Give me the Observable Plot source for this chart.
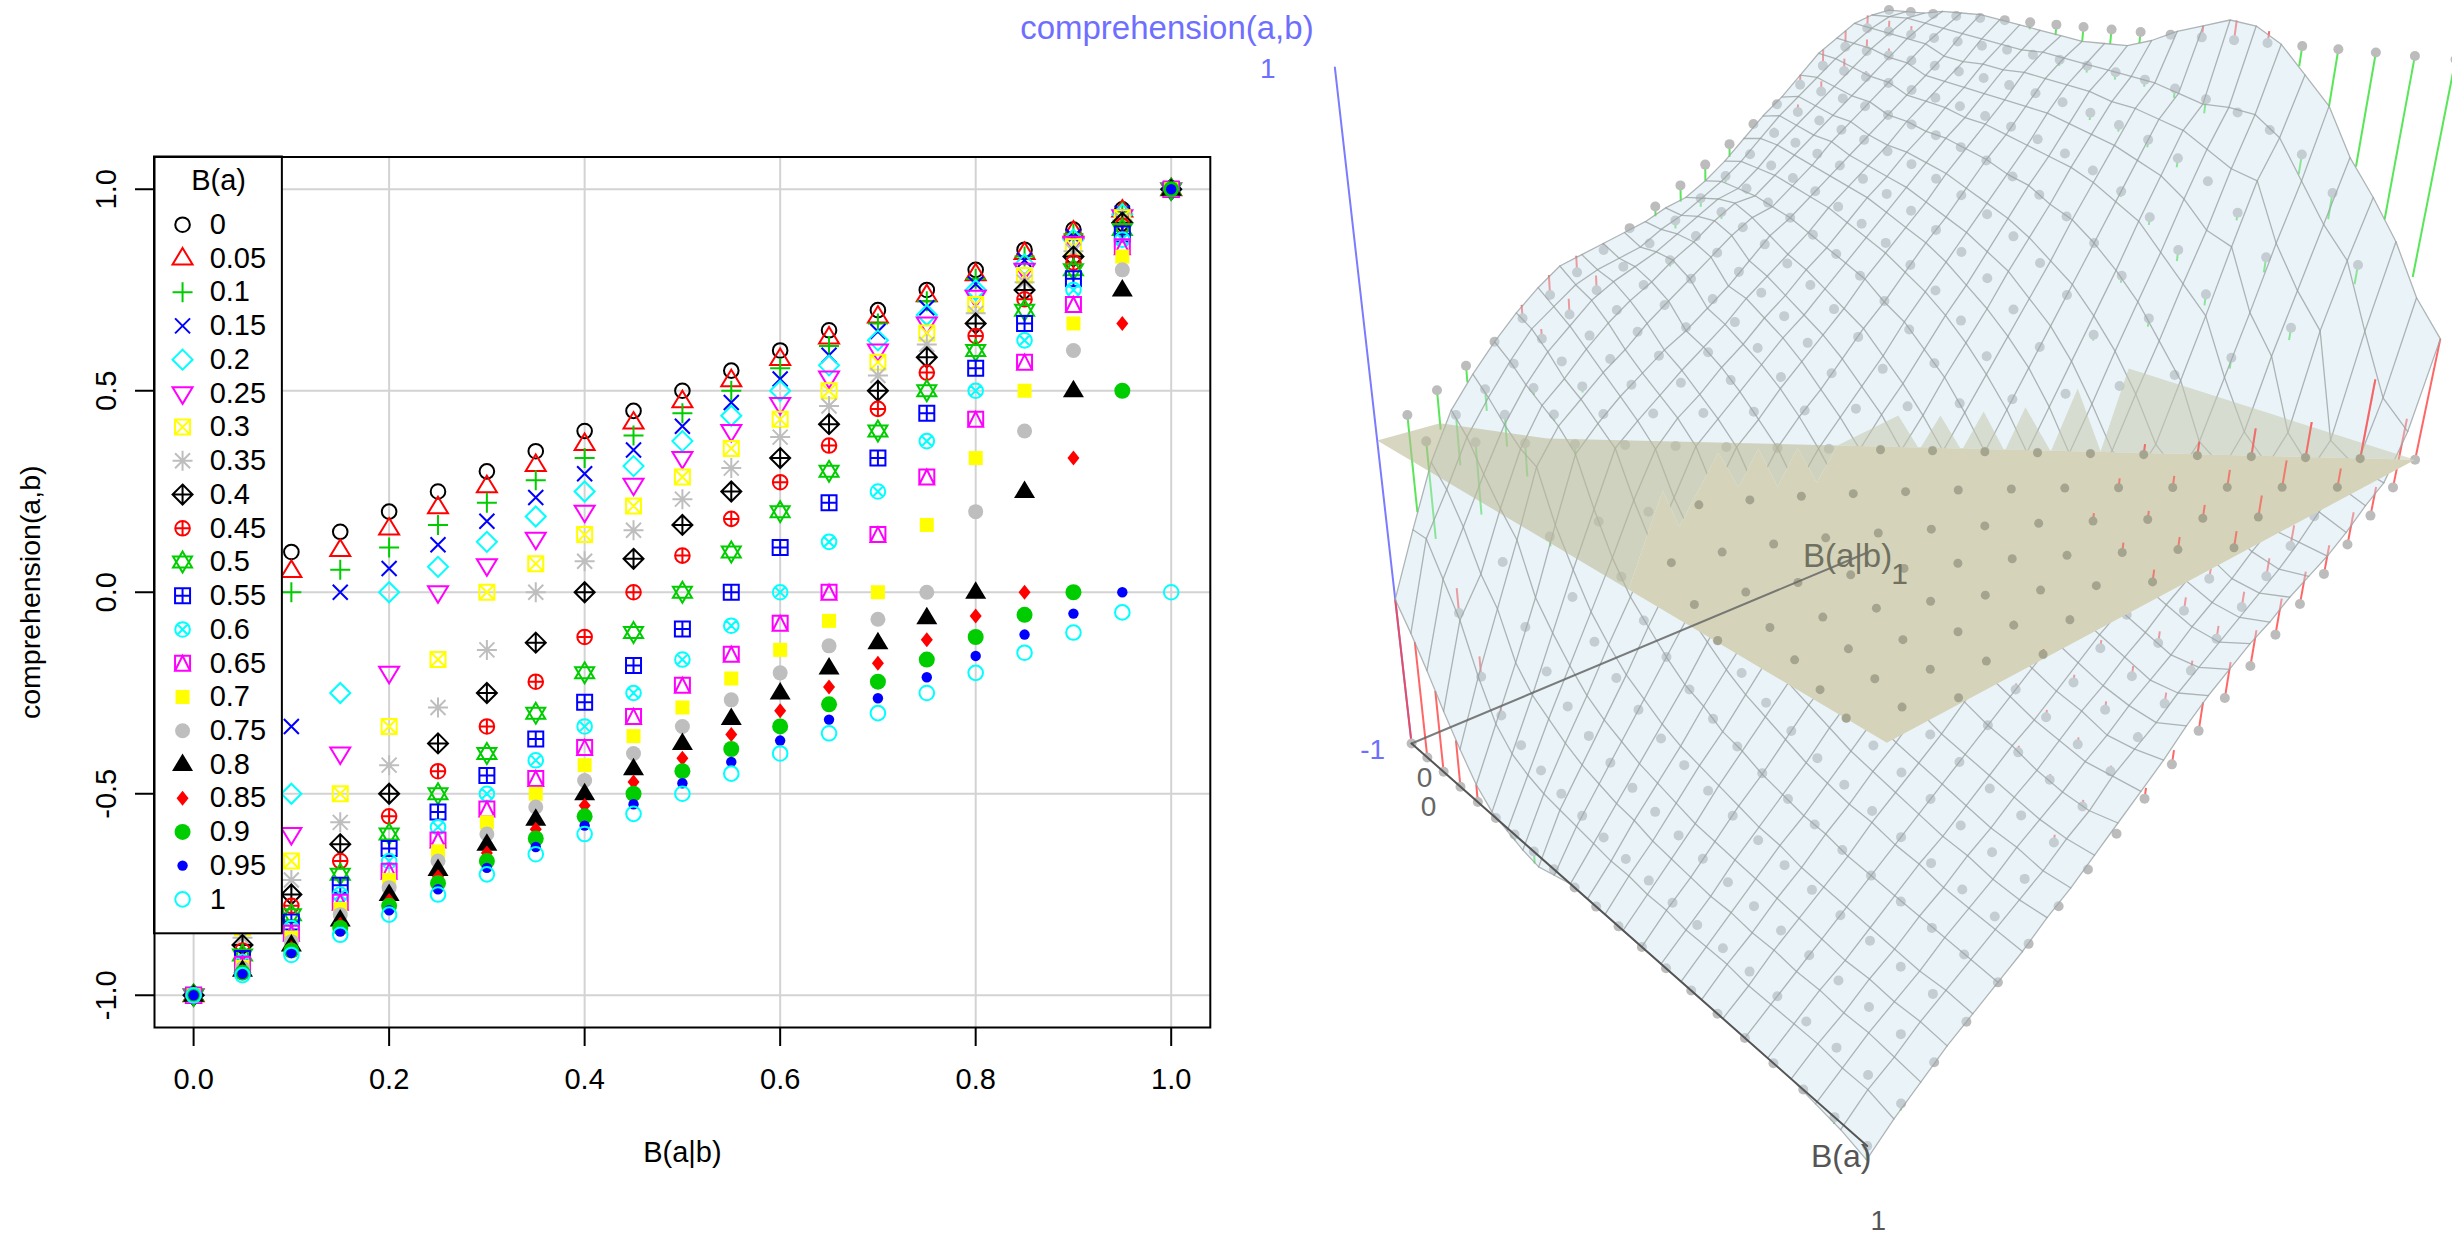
<!DOCTYPE html>
<html><head><meta charset="utf-8">
<script src="https://cdn.jsdelivr.net/npm/d3@7"></script>
<script src="https://cdn.jsdelivr.net/npm/@observablehq/plot@0.6"></script>
<style>
html,body{margin:0;padding:0;background:#fff;width:2452px;height:1239px;overflow:hidden}
#L,#R{position:absolute;left:0;top:0}
svg{display:block}
</style></head><body><div id="L"></div><div id="R"></div>
<script>
const levels=[0,.05,.1,.15,.2,.25,.3,.35,.4,.45,.5,.55,.6,.65,.7,.75,.8,.85,.9,.95,1];
const levelLabels=["0","0.05","0.1","0.15","0.2","0.25","0.3","0.35","0.4","0.45","0.5","0.55","0.6","0.65","0.7","0.75","0.8","0.85","0.9","0.95","1"];
const xTicks=[0,.2,.4,.6,.8,1];
const yTicks=[-1,-.5,0,.5,1];
// comprehension(a,b), one row per B(a), one column per B(a|b)
const observed=[
[-1,.05,.1,.15,.2,.25,.3,.35,.4,.45,.5,.55,.6,.65,.7,.75,.8,.85,.9,.95,1],
[-1,0,.053,.105,.158,.211,.263,.316,.368,.421,.474,.526,.579,.632,.684,.737,.789,.842,.895,.947,1],
[-1,-.5,0,.056,.111,.167,.222,.278,.333,.389,.444,.5,.556,.611,.667,.722,.778,.833,.889,.944,1],
[-1,-.667,-.333,0,.059,.118,.176,.235,.294,.353,.412,.471,.529,.588,.647,.706,.765,.824,.882,.941,1],
[-1,-.75,-.5,-.25,0,.063,.125,.188,.25,.313,.375,.438,.5,.563,.625,.688,.75,.813,.875,.938,1],
[-1,-.8,-.6,-.4,-.2,0,.067,.133,.2,.267,.333,.4,.467,.533,.6,.667,.733,.8,.867,.933,1],
[-1,-.833,-.667,-.5,-.333,-.167,0,.071,.143,.214,.286,.357,.429,.5,.571,.643,.714,.786,.857,.929,1],
[-1,-.857,-.714,-.571,-.429,-.286,-.143,0,.077,.154,.231,.308,.385,.462,.538,.615,.692,.769,.846,.923,1],
[-1,-.875,-.75,-.625,-.5,-.375,-.25,-.125,0,.083,.167,.25,.333,.417,.5,.583,.667,.75,.833,.917,1],
[-1,-.889,-.778,-.667,-.556,-.444,-.333,-.222,-.111,0,.091,.182,.273,.364,.455,.545,.636,.727,.818,.909,1],
[-1,-.9,-.8,-.7,-.6,-.5,-.4,-.3,-.2,-.1,0,.1,.2,.3,.4,.5,.6,.7,.8,.9,1],
[-1,-.909,-.818,-.727,-.636,-.545,-.455,-.364,-.273,-.182,-.091,0,.111,.222,.333,.444,.556,.667,.778,.889,1],
[-1,-.917,-.833,-.75,-.667,-.583,-.5,-.417,-.333,-.25,-.167,-.083,0,.125,.25,.375,.5,.625,.75,.875,1],
[-1,-.923,-.846,-.769,-.692,-.615,-.538,-.462,-.385,-.308,-.231,-.154,-.077,0,.143,.286,.429,.571,.714,.857,1],
[-1,-.929,-.857,-.786,-.714,-.643,-.571,-.5,-.429,-.357,-.286,-.214,-.143,-.071,0,.167,.333,.5,.667,.833,1],
[-1,-.933,-.867,-.8,-.733,-.667,-.6,-.533,-.467,-.4,-.333,-.267,-.2,-.133,-.067,0,.2,.4,.6,.8,1],
[-1,-.938,-.875,-.813,-.75,-.688,-.625,-.563,-.5,-.438,-.375,-.313,-.25,-.188,-.125,-.063,0,.25,.5,.75,1],
[-1,-.941,-.882,-.824,-.765,-.706,-.647,-.588,-.529,-.471,-.412,-.353,-.294,-.235,-.176,-.118,-.059,0,.333,.667,1],
[-1,-.944,-.889,-.833,-.778,-.722,-.667,-.611,-.556,-.5,-.444,-.389,-.333,-.278,-.222,-.167,-.111,-.056,0,.5,1],
[-1,-.947,-.895,-.842,-.789,-.737,-.684,-.632,-.579,-.526,-.474,-.421,-.368,-.316,-.263,-.211,-.158,-.105,-.053,0,1],
[-1,-.95,-.9,-.85,-.8,-.75,-.7,-.65,-.6,-.55,-.5,-.45,-.4,-.35,-.3,-.25,-.2,-.15,-.1,-.05,0]
];
// height of the fitted surface above the observed nodes, read from the 3D view
const fitted=[
[-.5,-.25,-.02,.1,.2,.29,.36,.4,.42,.44,.47,.5,.55,.61,.69,.76,.83,.9,.95,.99,1],
[-.6,-.3,-.1,.04,.15,.24,.31,.36,.38,.41,.45,.5,.56,.62,.7,.76,.82,.88,.93,.98,1],
[-.72,-.42,-.22,-.04,.09,.17,.23,.28,.33,.37,.43,.48,.54,.6,.67,.73,.79,.85,.91,.97,1.01],
[-.84,-.6,-.34,-.1,.04,.1,.17,.23,.28,.34,.4,.46,.52,.58,.64,.7,.77,.83,.89,.95,1.01],
[-.94,-.72,-.5,-.28,-.03,.05,.12,.18,.24,.3,.36,.43,.5,.56,.62,.69,.75,.81,.87,.94,1.01],
[-1,-.8,-.6,-.4,-.2,-.01,.06,.13,.19,.26,.33,.4,.46,.53,.6,.66,.73,.8,.86,.93,1],
[-1.02,-.84,-.67,-.5,-.33,-.16,-.01,.07,.14,.21,.28,.35,.42,.5,.57,.64,.71,.78,.85,.92,.98],
[-1.04,-.87,-.72,-.57,-.42,-.28,-.14,-.01,.08,.15,.23,.3,.38,.46,.54,.61,.69,.76,.84,.91,.97],
[-1.02,-.88,-.75,-.62,-.5,-.37,-.25,-.12,0,.08,.16,.25,.33,.41,.5,.58,.66,.74,.82,.9,.96],
[-1,-.89,-.78,-.66,-.55,-.44,-.33,-.22,-.11,0,.09,.18,.27,.36,.45,.54,.63,.72,.81,.89,.96],
[-1,-.9,-.8,-.7,-.6,-.5,-.4,-.3,-.2,-.1,0,.1,.2,.29,.39,.49,.59,.69,.78,.88,.97],
[-1,-.91,-.82,-.73,-.64,-.55,-.45,-.36,-.27,-.18,-.09,0,.11,.22,.33,.44,.55,.66,.76,.87,1],
[-1,-.92,-.83,-.75,-.67,-.58,-.5,-.42,-.33,-.25,-.17,-.08,0,.12,.24,.37,.49,.61,.73,.85,1.03],
[-1,-.92,-.85,-.77,-.69,-.61,-.54,-.46,-.38,-.3,-.23,-.15,-.08,0,.13,.27,.41,.55,.69,.82,1.05],
[-1,-.93,-.86,-.79,-.71,-.64,-.57,-.5,-.42,-.35,-.28,-.21,-.14,-.06,.01,.16,.31,.47,.66,.83,1.03],
[-1,-.93,-.87,-.8,-.73,-.66,-.6,-.53,-.46,-.39,-.32,-.26,-.19,-.11,-.04,.03,.19,.37,.58,.8,.95],
[-1,-.94,-.88,-.81,-.75,-.68,-.62,-.56,-.49,-.42,-.36,-.3,-.24,-.16,-.1,-.03,.04,.22,.46,.7,.86],
[-1,-.94,-.88,-.82,-.76,-.7,-.64,-.58,-.51,-.45,-.39,-.33,-.27,-.2,-.14,-.08,-.01,.08,.3,.6,.72],
[-1,-.95,-.89,-.83,-.77,-.72,-.66,-.6,-.54,-.48,-.42,-.36,-.3,-.24,-.18,-.12,-.05,.02,.1,.45,.6],
[-1.02,-.95,-.9,-.84,-.79,-.73,-.67,-.61,-.56,-.51,-.46,-.39,-.34,-.28,-.22,-.16,-.1,-.03,0,.22,.47],
[-1.04,-.97,-.9,-.84,-.79,-.74,-.69,-.65,-.59,-.52,-.46,-.37,-.3,-.25,-.2,-.16,-.12,-.06,-.02,.14,.33]
];
// the wire mesh of the surface has 25 cells a side; heights of its nodes, read from the 3D view
const meshStep=[0,.04,.08,.12,.16,.2,.24,.28,.32,.36,.4,.44,.48,.52,.56,.6,.64,.68,.72,.76,.8,.84,.88,.92,.96,1];
const mesh=[
[-.5,-.3,-.11,.03,.12,.2,.27,.33,.38,.4,.42,.44,.46,.49,.51,.55,.6,.66,.72,.77,.83,.89,.93,.97,.99,1],
[-.58,-.3,-.17,-.03,.07,.16,.24,.29,.34,.37,.39,.41,.45,.48,.52,.56,.61,.67,.73,.78,.83,.88,.92,.96,.99,1],
[-.67,-.4,-.26,-.12,.01,.11,.19,.25,.31,.35,.38,.41,.45,.49,.53,.55,.6,.66,.71,.76,.81,.86,.91,.95,.99,1],
[-.77,-.5,-.38,-.2,-.04,.07,.13,.2,.26,.31,.35,.4,.44,.49,.53,.54,.59,.64,.69,.74,.79,.84,.89,.94,.98,1.01],
[-.86,-.65,-.46,-.27,-.07,.03,.09,.15,.2,.26,.31,.36,.41,.46,.5,.52,.57,.62,.68,.73,.78,.83,.88,.93,.97,1.01],
[-.94,-.77,-.6,-.42,-.22,-.03,.04,.1,.15,.2,.24,.29,.34,.4,.46,.5,.55,.6,.65,.7,.75,.8,.85,.9,.96,1.01],
[-.99,-.83,-.67,-.5,-.33,-.17,-.01,.05,.105,.16,.21,.26,.32,.37,.42,.47,.53,.58,.63,.68,.74,.79,.84,.89,.95,1],
[-1.01,-.86,-.71,-.57,-.43,-.29,-.14,-.01,.06,.11,.17,.22,.28,.33,.39,.44,.5,.56,.61,.67,.72,.78,.83,.89,.94,.99],
[-1.03,-.88,-.75,-.63,-.5,-.38,-.25,-.13,0,.06,.12,.18,.24,.29,.35,.41,.47,.53,.59,.65,.71,.76,.82,.88,.93,.98],
[-1.04,-.89,-.78,-.67,-.56,-.44,-.33,-.22,-.11,0,.06,.13,.19,.25,.31,.38,.44,.5,.56,.63,.69,.75,.81,.88,.93,.97],
[-1.02,-.9,-.8,-.7,-.6,-.5,-.4,-.3,-.2,-.1,0,.07,.13,.2,.27,.33,.4,.47,.53,.6,.67,.73,.8,.87,.92,.96],
[-1,-.91,-.82,-.73,-.64,-.55,-.45,-.36,-.27,-.18,-.09,0,.07,.14,.21,.29,.36,.43,.5,.57,.64,.71,.79,.86,.91,.96],
[-1,-.92,-.83,-.75,-.67,-.58,-.5,-.42,-.33,-.25,-.17,-.08,0,.08,.15,.23,.31,.38,.46,.54,.62,.69,.77,.85,.9,.96],
[-1,-.92,-.85,-.77,-.69,-.62,-.54,-.46,-.38,-.31,-.23,-.15,-.08,0,.08,.17,.25,.33,.42,.5,.58,.67,.75,.83,.89,.98],
[-1,-.93,-.86,-.79,-.71,-.64,-.57,-.5,-.43,-.36,-.29,-.21,-.14,-.07,0,.09,.18,.27,.36,.45,.55,.64,.73,.82,.88,1.01],
[-1,-.93,-.87,-.8,-.73,-.67,-.6,-.53,-.47,-.4,-.33,-.27,-.2,-.13,-.07,0,.1,.2,.3,.4,.5,.6,.7,.8,.86,1.03],
[-1,-.94,-.88,-.81,-.75,-.69,-.63,-.56,-.5,-.44,-.38,-.31,-.25,-.19,-.13,-.06,0,.11,.22,.33,.44,.56,.67,.78,.84,1.05],
[-1,-.94,-.88,-.82,-.76,-.71,-.65,-.59,-.53,-.47,-.41,-.35,-.29,-.24,-.18,-.12,-.06,0,.12,.25,.37,.49,.62,.74,.84,1.04],
[-1,-.94,-.89,-.83,-.78,-.72,-.67,-.61,-.56,-.5,-.44,-.39,-.33,-.28,-.22,-.17,-.11,-.06,.01,.15,.28,.42,.55,.7,.83,1],
[-1,-.95,-.89,-.84,-.79,-.74,-.68,-.63,-.58,-.53,-.47,-.42,-.37,-.32,-.26,-.21,-.16,-.11,-.04,.03,.19,.35,.52,.68,.78,.93],
[-1,-.95,-.9,-.85,-.8,-.75,-.7,-.65,-.6,-.55,-.5,-.45,-.4,-.35,-.3,-.25,-.2,-.15,-.1,-.03,.04,.2,.36,.53,.68,.86],
[-1,-.95,-.9,-.86,-.81,-.76,-.71,-.67,-.62,-.57,-.52,-.48,-.43,-.38,-.33,-.29,-.24,-.19,-.14,-.08,-.01,.07,.26,.42,.58,.74],
[-1,-.95,-.91,-.86,-.82,-.77,-.73,-.68,-.64,-.59,-.55,-.5,-.45,-.41,-.36,-.32,-.27,-.23,-.18,-.13,-.07,0,.07,.33,.5,.65],
[-1.01,-.96,-.91,-.87,-.83,-.78,-.74,-.7,-.65,-.61,-.57,-.52,-.48,-.43,-.39,-.35,-.3,-.26,-.22,-.17,-.13,-.06,-.01,.05,.33,.55],
[-1.02,-.96,-.92,-.87,-.83,-.79,-.75,-.71,-.67,-.62,-.58,-.52,-.48,-.44,-.39,-.35,-.31,-.27,-.23,-.19,-.14,-.08,-.03,0,.17,.42],
[-1.04,-.98,-.93,-.88,-.84,-.8,-.76,-.71,-.67,-.62,-.57,-.52,-.47,-.41,-.36,-.32,-.28,-.25,-.21,-.18,-.15,-.11,-.06,-.02,.1,.33]
];
const palette=["#000000","#FF0000","#00CD00","#0000FF","#00FFFF","#FF00FF","#FFFF00","#BEBEBE"];
const legendTitle="B(a)", xLabel="B(a|b)", yLabel="comprehension(a,b)";

// Regions of the z=0 plane, as [B(a|b), B(a)]
const planeFront=[[0,1],[1,1],[.467,.449],[.359,.523],[.421,.418],[.312,.499],[.379,.384],[.273,.467],[.329,.358],[.143,.509],[.194,.409],[0,.6]];
const planeThrough=[[0,0],[.1,0],[.183,.156],[.467,.449],[.359,.523],[.421,.418],[.312,.499],[.379,.384],[.273,.467],[.329,.358],[.143,.509],[.194,.409],[0,.6]];
const planeBehind=[[.467,.449],[.613,.425],[.54,.535],[.658,.466],[.58,.576],[.717,.497],[.621,.617],[.775,.527],[.667,.659],[.897,.528],[.717,.704],[1.03,.525],[1,1]];

// Camera of the 3D view: [u,v,w] -> [px,py]
const camera=[1050.8703,-153.9788,-180.2897,1376.6962,-48.7338,41.1669,-379.8581,439.9574,.2934,-.3518,-.1034];
function project(u,v,w){
  const c=camera,d=c[8]*u+c[9]*v+c[10]*w+1;
  return [(c[0]*u+c[1]*v+c[2]*w+c[3])/d,(c[4]*u+c[5]*v+c[6]*w+c[7])/d];
}

// ---------- R style plotting symbols ----------
const poly=(c,pts)=>{pts.forEach((p,i)=>i?c.lineTo(p[0],p[1]):c.moveTo(p[0],p[1]));c.closePath();};
const seg=(c,a,b,x,y)=>{c.moveTo(a,b);c.lineTo(x,y);};
const circ=(c,r)=>{c.moveTo(r,0);c.arc(0,0,r,0,2*Math.PI);};
const sq=7.5,cr=7.3;
const symbols=[
 {draw(c){circ(c,cr)}},
 {draw(c){poly(c,[[0,-10.5],[10,6],[-10,6]])}},
 {draw(c){seg(c,-10,0,10,0);seg(c,0,-10,0,10)}},
 {draw(c){seg(c,-7.5,-7.5,7.5,7.5);seg(c,-7.5,7.5,7.5,-7.5)}},
 {draw(c){poly(c,[[0,-10],[10,0],[0,10],[-10,0]])}},
 {draw(c){poly(c,[[0,10.5],[10,-6],[-10,-6]])}},
 {draw(c){poly(c,[[-sq,-sq],[sq,-sq],[sq,sq],[-sq,sq]]);seg(c,-sq,-sq,sq,sq);seg(c,-sq,sq,sq,-sq)}},
 {draw(c){seg(c,-10,0,10,0);seg(c,0,-10,0,10);seg(c,-7.5,-7.5,7.5,7.5);seg(c,-7.5,7.5,7.5,-7.5)}},
 {draw(c){poly(c,[[0,-10],[10,0],[0,10],[-10,0]]);seg(c,-10,0,10,0);seg(c,0,-10,0,10)}},
 {draw(c){circ(c,cr);seg(c,-cr,0,cr,0);seg(c,0,-cr,0,cr)}},
 {draw(c){poly(c,[[0,-10.5],[9.5,5.5],[-9.5,5.5]]);poly(c,[[0,10.5],[9.5,-5.5],[-9.5,-5.5]])}},
 {draw(c){poly(c,[[-sq,-sq],[sq,-sq],[sq,sq],[-sq,sq]]);seg(c,-sq,0,sq,0);seg(c,0,-sq,0,sq)}},
 {draw(c){circ(c,cr);seg(c,-5.2,-5.2,5.2,5.2);seg(c,-5.2,5.2,5.2,-5.2)}},
 {draw(c){poly(c,[[-sq,-sq],[sq,-sq],[sq,sq],[-sq,sq]]);poly(c,[[0,-sq],[sq,sq],[-sq,sq]])}},
 {draw(c){poly(c,[[-7,-7],[7,-7],[7,7],[-7,7]])},solid:true},
 {draw(c){circ(c,7.5)},solid:true},
 {draw(c){poly(c,[[0,-11],[10.5,6.5],[-10.5,6.5]])},solid:true},
 {draw(c){poly(c,[[0,-7.5],[6,0],[0,7.5],[-6,0]])},solid:true},
 {draw(c){circ(c,8)},solid:true},
 {draw(c){circ(c,5.2)},solid:true},
 {draw(c){circ(c,cr)}}
];
const style=i=>{const col=palette[i%8];return symbols[i].solid?{fill:col,stroke:"none"}:{fill:"none",stroke:col,strokeWidth:2};};

// ---------- left panel ----------
const FONT="Liberation Sans, Arial, sans-serif";
const ML=154,MT=156.5,plotRight=1209.8,plotBottom=1027;
const scatter=levels.map((a,i)=>observed[i].map((z,j)=>({x:levels[j],z})));
const legendKeyX=-.0113,legendTextX=.0164,legendTop=.912,legendStep=.0837;
const legendRows=levels.map((a,i)=>({i,label:levelLabels[i],y:legendTop-i*legendStep}));
const left=Plot.plot({
  width:1240,height:1239,marginLeft:ML,marginRight:1240-plotRight,marginTop:MT,marginBottom:1239-plotBottom,
  style:{background:"transparent",fontFamily:FONT},
  x:{domain:[-.04,1.04],axis:null},y:{domain:[-1.08,1.08],axis:null},
  marks:[
    Plot.ruleX(xTicks,{stroke:"#d3d3d3",strokeWidth:2}),
    Plot.ruleY(yTicks,{stroke:"#d3d3d3",strokeWidth:2}),
    ...scatter.map((rows,i)=>Plot.dot(rows,{x:"x",y:"z",r:7,symbol:symbols[i],...style(i)})),
    Plot.rect([{x1:-.04,x2:.0908,y1:-.8475,y2:1.08}],{x1:"x1",x2:"x2",y1:"y1",y2:"y2",fill:"white",stroke:"black",strokeWidth:2}),
    ...legendRows.map(r=>Plot.dot([r],{x:()=>legendKeyX,y:"y",r:7,symbol:symbols[r.i],...style(r.i)})),
    Plot.text(legendRows,{x:()=>legendTextX,y:"y",text:"label",textAnchor:"start",fontSize:29,fill:"black"}),
    Plot.text([legendTitle],{x:()=>.0256,y:()=>1.0216,text:d=>d,fontSize:29,fill:"black"}),
    Plot.frame({stroke:"black",strokeWidth:2}),
    Plot.axisX({ticks:xTicks,tickFormat:d=>d.toFixed(1),tickSize:19,tickPadding:22,fontSize:29,label:null,stroke:"black",strokeWidth:2,color:"black"}),
    Plot.axisY({ticks:yTicks,tickFormat:d=>d.toFixed(1),tickSize:19,tickPadding:20,tickRotate:-90,textAnchor:"middle",lineAnchor:"bottom",fontSize:29,label:null,stroke:"black",strokeWidth:2,color:"black"}),
    Plot.text([xLabel],{frameAnchor:"bottom",dy:134,text:d=>d,fontSize:29,fill:"black"}),
    Plot.text([yLabel],{frameAnchor:"left",dx:-124,rotate:-90,textAnchor:"middle",text:d=>d,fontSize:28.5,fill:"black"})
  ]
});
document.getElementById("L").append(left);

// ---------- right panel: perspective view ----------
const nodes=[];
levels.forEach((a,i)=>levels.forEach((b,j)=>{
  const [px,py]=project(b,a,observed[i][j]);
  const [sx,sy]=project(b,a,fitted[i][j]);
  nodes.push({u:b,v:a,px,py,sx,sy,up:fitted[i][j]>observed[i][j]});
}));
const stickOf=n=>n.up?"#ff4040":"#30e030";
const frontOutline=planeFront.map(([u,v])=>project(u,v,0));
const inFront=nodes.filter(n=>d3.polygonContains(frontOutline,[n.px,n.py]));
const cells=[],meshLines=[];
const N=meshStep.length;
for(let i=0;i<N-1;i++)for(let j=0;j<N-1;j++){
  for(const [ii,jj] of [[i,j],[i,j+1],[i+1,j+1],[i+1,j]]){
    const [x,y]=project(meshStep[jj],meshStep[ii],mesh[ii][jj]);
    cells.push({id:i*100+j,x,y});
  }
}
for(let k=0;k<N;k++)for(let m=0;m<N;m++){
  const [x,y]=project(meshStep[m],meshStep[k],mesh[k][m]);meshLines.push({id:"a"+k,x,y});
  const [x2,y2]=project(meshStep[k],meshStep[m],mesh[m][k]);meshLines.push({id:"b"+k,x:x2,y:y2});
}
const planeRegion=(reg)=>reg.map(([u,v])=>{const [x,y]=project(u,v,0);return {x,y};});
const segment=(a,b)=>[project(...a),project(...b)].map(([x,y])=>({x,y}));
const sceneLabels=[
 {t:"comprehension(a,b)",at:[0,0,1],dx:-168,dy:-39,c:"#6f6fff",s:33},
 {t:"1",at:[0,0,1],dx:-67,dy:2,c:"#6f6fff",s:28},
 {t:"-1",at:[0,0,-1],dx:-39,dy:7,c:"#6f6fff",s:28},
 {t:"0",at:[0,0,-1],dx:13,dy:35,c:"#666",s:28},
 {t:"0",at:[0,0,-1],dx:17,dy:64,c:"#666",s:28},
 {t:"B(a|b)",at:[1,0,-1],dx:-20,dy:4,c:"#707060",s:33},
 {t:"1",at:[1,0,-1],dx:32,dy:22,c:"#707060",s:30},
 {t:"B(a)",at:[0,1,-1],dx:-26,dy:11,c:"#555",s:32},
 {t:"1",at:[0,1,-1],dx:11,dy:75,c:"#555",s:28}
].map(l=>{const [x,y]=project(...l.at);return {...l,x:x+l.dx,y:y+l.dy};});

const right=Plot.plot({
  width:2452,height:1239,margin:0,
  style:{background:"transparent",fontFamily:FONT},
  x:{domain:[0,2452],range:[0,2452],axis:null},
  y:{domain:[0,1239],range:[0,1239],axis:null},
  marks:[
    Plot.line(segment([0,0,-1],[0,0,1]),{x:"x",y:"y",stroke:"#7b7bff",strokeWidth:2}),
    Plot.link(nodes,{x1:"px",y1:"py",x2:"sx",y2:"sy",stroke:stickOf,strokeWidth:2,strokeOpacity:.8}),
    Plot.dot(nodes,{x:"px",y:"py",r:5,fill:"#bcbcbc"}),
    Plot.line(cells,{x:"x",y:"y",z:"id",fill:"#cfe5f0",stroke:"#cfe5f0",strokeWidth:1,opacity:.42}),
    Plot.line(meshLines,{x:"x",y:"y",z:"id",stroke:"#9a9fa0",strokeWidth:1.3,strokeOpacity:.75}),
    Plot.line(planeRegion(planeBehind),{x:"x",y:"y",fill:"#c6c9b0",stroke:"none",fillOpacity:.55}),
    Plot.line(planeRegion(planeThrough),{x:"x",y:"y",fill:"#bdbb98",stroke:"none",fillOpacity:.6}),
    Plot.line(planeRegion(planeFront),{x:"x",y:"y",fill:"#d5d4ba",stroke:"none"}),
    Plot.link(inFront,{x1:"px",y1:"py",x2:"sx",y2:"sy",stroke:stickOf,strokeWidth:2,strokeOpacity:.6}),
    Plot.dot(inFront,{x:"px",y:"py",r:4.5,fill:"#a5a48f"}),
    Plot.line(segment([0,0,-1],[1,0,-1]),{x:"x",y:"y",stroke:"#666",strokeWidth:2,strokeOpacity:.85}),
    Plot.line(segment([0,0,-1],[0,1,-1]),{x:"x",y:"y",stroke:"#555",strokeWidth:2}),
    Plot.text(sceneLabels,{x:"x",y:"y",text:"t",fill:"c",fontSize:"s"})
  ]
});
document.getElementById("R").append(right);
</script></body></html>
